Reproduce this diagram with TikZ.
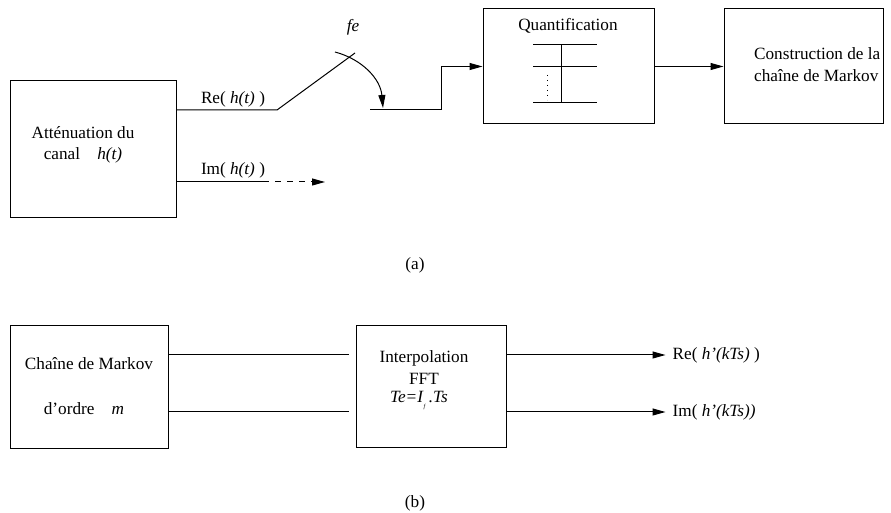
\documentclass[tikz,border=0pt]{standalone}
\usepackage{fontspec}
\setmainfont{Liberation Serif}
\usetikzlibrary{arrows.meta}

\begin{document}
\begin{tikzpicture}[x=0.5pt, y=-0.5pt, line width=0.5pt, font=\fontsize{8.6}{10.5}\selectfont, >={Triangle[length=6.5pt,width=3.5pt]}]
\useasboundingbox (0,0) rectangle (891,513);

% (a)
\node at (93,149.5) [rectangle, draw, minimum width=83pt, minimum height=68.5pt] (att) {};
\node at (568.5,66.5) [rectangle, draw, minimum width=85.5pt, minimum height=57.5pt] (quant) {};
\node at (803.5,66.5) [rectangle, draw, minimum width=79.5pt, minimum height=57.5pt] (constr) {};

\node at (83,145) [align=center] (atttext) {Atténuation du\\canal\quad\textit{h(t)}};
\node at (568,26) (quanttext) {Quantification};
\node at (747,65) [anchor=west, align=left, font=\fontsize{8.6}{11}\selectfont] (constrtext) {Construction de la\\chaîne de Markov};

\draw (533,45) -- (597,45);
\draw (533,67) -- (597,67);
\draw (533,103) -- (597,103);
\draw (561,45) -- (561,103);
\draw[dotted] (547,75) -- (547,100);

\coordinate (sw1) at (277,110);
\coordinate (sw2) at (355,53);
\coordinate (sw3) at (370,110);
\coordinate (imdash) at (263,182);
\coordinate (imend) at (325,182);

\draw (att.east |- sw1) -- (sw1) -- (sw2);
\draw[->] (335,52) to[out=-15, in=95] (383,108);
\node at (353,27) (fe) {\textit{fe}};
\draw[->] (sw3) -- ++(71,0) |- (quant.west);
\draw[->] (quant) -- (constr);
\draw (att.east |- imdash) -- (imdash);
\draw[dashed, ->] (imdash) -- (imend);

\node at (233,99) (re) {Re( \textit{h(t)} )};
\node at (233,170) (im) {Im( \textit{h(t)} )};
\node at (415,265) (capa) {(a)};

% (b)
\node at (89,387.5) [rectangle, draw, minimum width=79pt, minimum height=61.5pt] (markov) {};
\node at (431,387) [rectangle, draw, minimum width=75pt, minimum height=61pt] (interp) {};

\node at (89,364) (markovtext) {Chaîne de Markov};
\node at (84,409) (ordre) {d’ordre\quad\textit{m}};
\node at (424,367.5) [align=center, font=\fontsize{8.6}{10.75}\selectfont] (interptext) {Interpolation\\FFT};
\node at (419,401) (te) {\textit{Te=I}\raisebox{-3pt}{\fontsize{3}{3}\selectfont\textit{f}}\,\textit{.Ts}};

\draw (markov.east) ++(0,-32.5) -- ++(180,0);
\draw (markov.east) ++(0,24.5) -- ++(180,0);
\draw[->] (interp.east) ++(0,-32) -- ++(159,0) node[right] (reout) {Re( \textit{h’(kTs)} )};
\draw[->] (interp.east) ++(0,25) -- ++(159,0) node[right] (imout) {Im( \textit{h’(kTs))}};
\node at (415,503) (capb) {(b)};
\end{tikzpicture}
\end{document}
